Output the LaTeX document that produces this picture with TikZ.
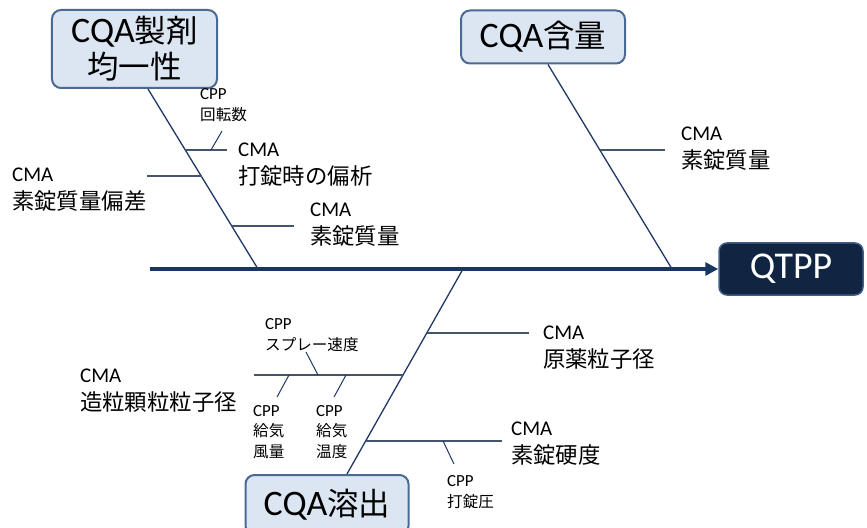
\documentclass[tikz,border=0pt]{standalone}
\usepackage{fontspec}
\setmainfont{Carlito}
\newfontfamily\jp[Scale=1.07]{Noto Sans CJK JP}
\usetikzlibrary{arrows.meta,calc}
\definecolor{boxfill}{HTML}{DCE6F2}
\definecolor{boxline}{HTML}{4A6A94}
\definecolor{navy}{HTML}{1F3864}
\definecolor{spinecol}{HTML}{17375E}
\definecolor{subcol}{HTML}{44546A}
\definecolor{qfill}{HTML}{112542}
\definecolor{qline}{HTML}{3F5F88}
\newcommand{\bigjp}[1]{{\jp\fontsize{29.5}{36}\selectfont #1}}
\newcommand{\smjp}[1]{{\jp\fontsize{14.6}{20.5}\selectfont #1}}
\begin{document}
\begin{tikzpicture}[x=1bp,y=-1bp,
  cqa/.style={draw=boxline, fill=boxfill, line width=2bp, rounded corners=9bp, align=center, inner sep=0pt, font=\fontsize{36}{36}\selectfont},
  qtpp/.style={draw=qline, fill=qfill, line width=1.5bp, rounded corners=8bp, align=center, inner sep=0pt, text=white, font=\fontsize{38}{36}\selectfont},
  lbl/.style={anchor=west, align=left, inner sep=0pt},
  med/.style={font=\fontsize{21}{28}\selectfont},
  sml/.style={font=\fontsize{17}{20.5}\selectfont},
  bone/.style={draw=navy, line width=1.3bp},
  subbone/.style={draw=subcol, line width=1.8bp},
  tick/.style={draw=navy, line width=1bp},
  spine/.style={draw=spinecol, line width=3.5bp, -{Triangle[length=13bp,width=13bp]}}
]
\useasboundingbox (0,0) rectangle (867,528);

% boxes
\node[cqa, minimum width=165bp, minimum height=78bp] (b1) at (134.5,49) {CQA\bigjp{製剤}\\\bigjp{均一性}};
\node[cqa, minimum width=164bp, minimum height=53bp] (b2) at (543,37) {CQA\bigjp{含量}};
\node[cqa, minimum width=163bp, minimum height=60bp] (b3) at (327,505) {CQA\bigjp{溶出}};
\node[qtpp, minimum width=144bp, minimum height=52bp] (q) at (791,269) {QTPP};

% spine
\coordinate (tail) at (150,269);
\draw[spine] (tail) -- (q.west);

% main bones
\coordinate (s1) at (258,269);
\coordinate (s2) at (672,269);
\coordinate (s3) at (463,269);
\draw[bone] ($(b1.south)+(13.5,0)$) -- (s1);
\draw[bone] ($(b2.south)+(5,0)$) -- (s2);
\draw[bone] (s3) -- ($(b3.north)+(20,0)$);

% top-left sub bones
\coordinate (a1) at (185.7,150); \coordinate (a1e) at (227,150);
\coordinate (a2) at (201.5,176); \coordinate (a2e) at (147,176);
\coordinate (a3) at (231.9,226); \coordinate (a3e) at (294,226);
\draw[subbone] (a1) -- (a1e);
\draw[subbone] (a2) -- (a2e);
\draw[subbone] (a3) -- (a3e);
\coordinate (t1) at (211,150); \coordinate (t1e) at (222,131);
\draw[tick] (t1) -- (t1e);

% top-right sub bone
\coordinate (r1) at (600.4,150); \coordinate (r1e) at (665,150);
\draw[subbone] (r1) -- (r1e);

% bottom sub bones
\coordinate (d1) at (427,333); \coordinate (d1e) at (529,333);
\coordinate (d2) at (403.3,375); \coordinate (d2e) at (254,375);
\coordinate (d3) at (366.1,441); \coordinate (d3e) at (502,441);
\draw[subbone] (d1) -- (d1e);
\draw[subbone] (d2) -- (d2e);
\draw[subbone] (d3) -- (d3e);
\coordinate (u1) at (318,375); \coordinate (u1e) at (306,352);
\coordinate (u2) at (289,375); \coordinate (u2e) at (277,397);
\coordinate (u3) at (346,375); \coordinate (u3e) at (334,397);
\coordinate (u4) at (443,441); \coordinate (u4e) at (454,464);
\draw[tick] (u1) -- (u1e);
\draw[tick] (u2) -- (u2e);
\draw[tick] (u3) -- (u3e);
\draw[tick] (u4) -- (u4e);

% labels
\node[lbl, sml] (l1) at (200,105) {CPP\\\smjp{回転数}};
\node[lbl, med] (l2) at (238,165) {CMA\\{\jp 打錠時の偏析}};
\node[lbl, med] (l3) at (12,190) {CMA\\{\jp 素錠質量偏差}};
\node[lbl, med] (l4) at (310,225) {CMA\\{\jp 素錠質量}};
\node[lbl, med] (l5) at (681,149) {CMA\\{\jp 素錠質量}};
\node[lbl, med] (l6) at (543,348) {CMA\\{\jp 原薬粒子径}};
\node[lbl, med] (l7) at (80,391) {CMA\\{\jp 造粒顆粒粒子径}};
\node[lbl, med] (l8) at (511,444) {CMA\\{\jp 素錠硬度}};
\node[lbl, sml] (l9) at (265,335) {CPP\\\smjp{スプレー速度}};
\node[lbl, sml] (l10) at (253,432) {CPP\\\smjp{給気}\\\smjp{風量}};
\node[lbl, sml] (l11) at (316,432) {CPP\\\smjp{給気}\\\smjp{温度}};
\node[lbl, sml] (l12) at (447,492) {CPP\\\smjp{打錠圧}};
\end{tikzpicture}
\end{document}
